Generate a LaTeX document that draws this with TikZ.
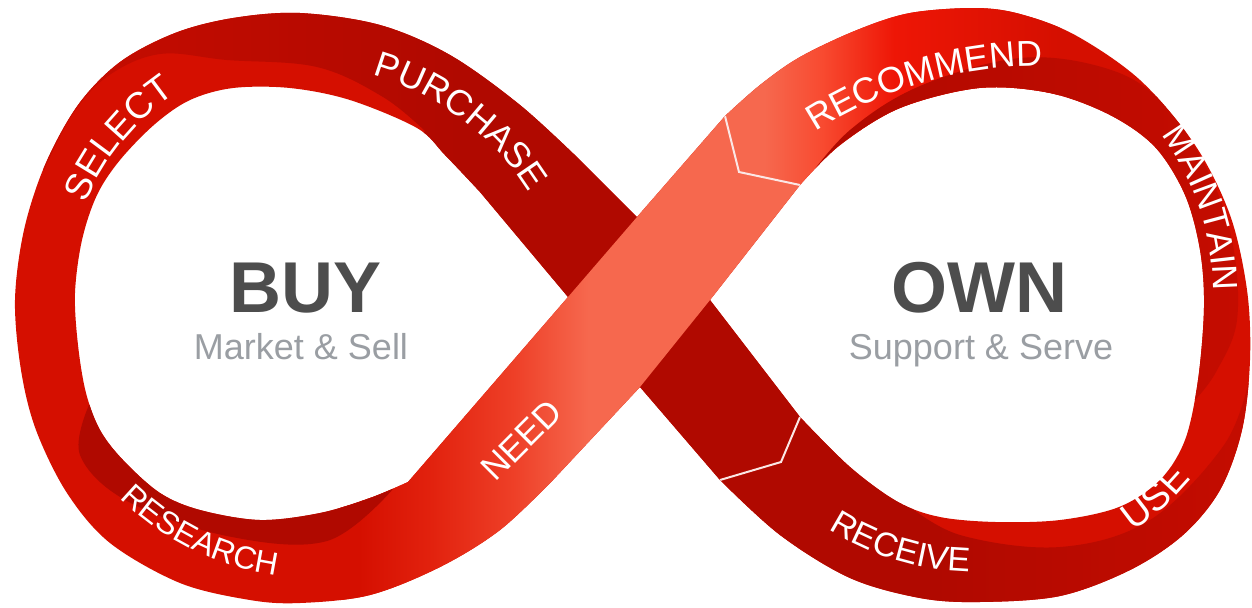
\documentclass[tikz,border=0pt]{standalone}
\usepackage{fontspec}
\setmainfont{Liberation Sans}
\usepackage{xcolor}
\usetikzlibrary{decorations.text}

\definecolor{ribbase}{HTML}{D50F00}
\definecolor{ribdark}{HTML}{B00900}
\definecolor{ribtop}{HTML}{C40C00}
\definecolor{salmon}{HTML}{F6684E}
\definecolor{needA}{HTML}{E2220E}
\definecolor{needB}{HTML}{EE4028}
\definecolor{recA}{HTML}{F84A30}
\definecolor{recB}{HTML}{EE1606}
\definecolor{wordgray}{HTML}{4D4D4D}
\definecolor{subgray}{HTML}{9A9EA3}

% shadings are stretched so that 25bp..75bp covers the path
\pgfdeclarehorizontalshading{darkshade}{100bp}{color(0bp)=(ribtop); color(29bp)=(ribtop); color(43bp)=(ribdark); color(61bp)=(ribdark); color(73bp)=(ribtop); color(100bp)=(ribtop)}
\pgfdeclarehorizontalshading{needshade}{100bp}{color(0bp)=(ribbase); color(27bp)=(ribbase); color(35bp)=(needA); color(44bp)=(needB); color(52bp)=(salmon); color(100bp)=(salmon)}
\pgfdeclarehorizontalshading{recshade}{100bp}{color(0bp)=(salmon); color(34bp)=(salmon); color(42bp)=(recA); color(52bp)=(recB); color(75bp)=(ribbase); color(100bp)=(ribbase)}

% outer edge of the figure eight, then the two holes
\def\ribbonshape{
  (637,217) -- (580,160) -- plot[smooth, tension=0.55] coordinates {(580,160) (520,105) (450,55) (380,25) (300,13) (233,18) (175,33) (120,62) (78,105) (45,165) (24,230) (15,300) (21,370) (36,430) (67,493) (110,543) (180,583) (250,600) (300,603) (370,595) (440,567) (500,530) (553,480)}
  -- (640,387) -- (720,480) -- plot[smooth, tension=0.55] coordinates {(720,480) (780,535) (850,578) (920,598) (979,602) (1060,596) (1130,570) (1183,535) (1220,490) (1242,430) (1250,360) (1247,290) (1230,215) (1195,145) (1140,80) (1075,35) (1020,14) (975,8) (910,13) (857,30) (800,57) (760,85) (725,116)} -- cycle
  (568,297) -- (480,192) -- plot[smooth, tension=0.55] coordinates {(480,192) (445,155) (417,128) (350,100) (290,88) (233,88) (190,100) (155,124) (120,160) (97,195) (82,240) (75,293) (78,345) (86,393) (100,430) (123,460) (160,493) (200,510) (260,520) (320,513) (370,498) (408,482)} -- cycle
  (710,300) -- (800,185) -- plot[smooth, tension=0.55] coordinates {(800,185) (840,145) (900,108) (979,88) (1050,93) (1110,115) (1155,147) (1185,195) (1200,250) (1204,307) (1198,380) (1185,440) (1160,480) (1119,507) (1060,520) (996,522) (940,517) (898,502) (850,467) (800,417)} -- cycle}

\begin{document}
\begin{tikzpicture}[x=0.5pt, y=-0.5pt,
    word/.style={font=\fontsize{36}{40}\selectfont\bfseries, text=wordgray, inner sep=0pt, anchor=base},
    tagline/.style={font=\fontsize{18}{20}\selectfont, text=subgray, inner sep=0pt, anchor=base},
    chevron/.style={draw=white!90!ribbase, line width=1pt},
    arclabel/.style 2 args={decorate, decoration={text along path, text align=center,
        text={|\fontsize{#1}{#1}\selectfont\color{white}|#2}}}
]
\useasboundingbox (0,0) rectangle (1252,607);

% 1. Ribbon
\fill[ribbase, even odd rule] \ribbonshape;

\begin{scope}[even odd rule]
\clip \ribbonshape;

% 2. Dark band from PURCHASE down to RECEIVE (under the crossing)
\shade[shading=darkshade] (-10,-20) -- (560,-20) -- (580,160) -- (637,217) -- (710,300) -- (800,417)
  -- (830,400) -- (900,470) -- (905,503)
  -- plot[smooth, tension=0.6] coordinates {(905,503) (960,535) (1060,547) (1150,520) (1224,445) (1249,380)}
  -- (1300,380) -- (1300,700) -- (700,700) -- (720,480) -- (640,387) -- (568,297) -- (480,192)
  -- (430,200) -- (400,160) -- (425,131)
  -- plot[smooth, tension=0.6] coordinates {(425,131) (383,97) (317,67) (227,60) (160,54) (108,76) (72,115) (44,170)}
  -- (-10,170) -- cycle;

% 3. Light band from NEED up to the chevron (over the crossing)
\shade[shading=needshade] (340,470) -- (408,482) -- (568,297) -- (637,217) -- (725,116) -- (739,172)
  -- (800,185) -- (710,300) -- (640,387) -- (553,480) -- (500,650) -- (340,650) -- cycle;

% 4. RECOMMEND part fading back to red
\shade[shading=recshade] (700,-20) -- (700,100) -- (725,116) -- (739,172) -- (800,185) -- (850,150)
  -- (1060,150) -- (1060,-20) -- cycle;

% 5. Inner dark crescents (twist of the ribbon)
\fill[ribdark] (89,405) -- plot[smooth, tension=0.6] coordinates {(89,405) (80,455) (127,501) (227,536) (327,541) (393,489)}
  -- (300,460) -- (150,440) -- (110,400) -- cycle;
\shade[left color=ribdark, right color=ribtop] (805,182)
  -- plot[smooth, tension=0.6] coordinates {(805,182) (850,130) (920,86) (1020,58) (1105,68) (1160,100) (1205,165) (1232,240) (1237,320) (1216,372) (1195,400)}
  -- (1150,300) -- (1000,180) -- (850,180) -- cycle;

% 6. Chevrons
\draw[chevron] (725,116) -- (739,172) -- (800,185);
\draw[chevron] (800,417) -- (781,462) -- (720,480);
\end{scope}

% 7. Titles
\node[word] (buy) at (306,312) {BUY};
\node[tagline] (buysub) at (301,359) {Market \& Sell};
\node[word] (own) at (979,312) {OWN};
\node[tagline] (ownsub) at (981,359) {Support \& Serve};
\node[font=\fontsize{17.5}{20}\selectfont, text=white, rotate=45, inner sep=0pt] (need) at (521,440) {NEED};

% 8. Steps along the loops
\path[arclabel={18.5}{SELECT}, shift={(315,300)}] (194.4:249) arc[start angle=194.4, end angle=244.4, radius=249];
\path[arclabel={18}{PURCHASE}, shift={(298.5,335.5)}] (282:271) arc[start angle=282, end angle=332, radius=271];
\path[arclabel={18}{RECOMMEND}, shift={(1040,482)}] (228.8:416) arc[start angle=228.8, end angle=278.8, radius=416];
\path[arclabel={17.5}{MAINTAIN}, shift={(955,290)}] (316.7:258) arc[start angle=316.7, end angle=366.7, radius=258];
\path[arclabel={19}{USE}, shift={(975,300)}] (72.6:280.5) arc[start angle=72.6, end angle=22.6, radius=280.5];
\path[arclabel={17}{RECEIVE}, shift={(975,300)}] (131.9:272) arc[start angle=131.9, end angle=81.9, radius=272];
\path[arclabel={16}{RESEARCH}, shift={(315,300)}] (141.3:278) arc[start angle=141.3, end angle=91.3, radius=278];

\end{tikzpicture}
\end{document}
